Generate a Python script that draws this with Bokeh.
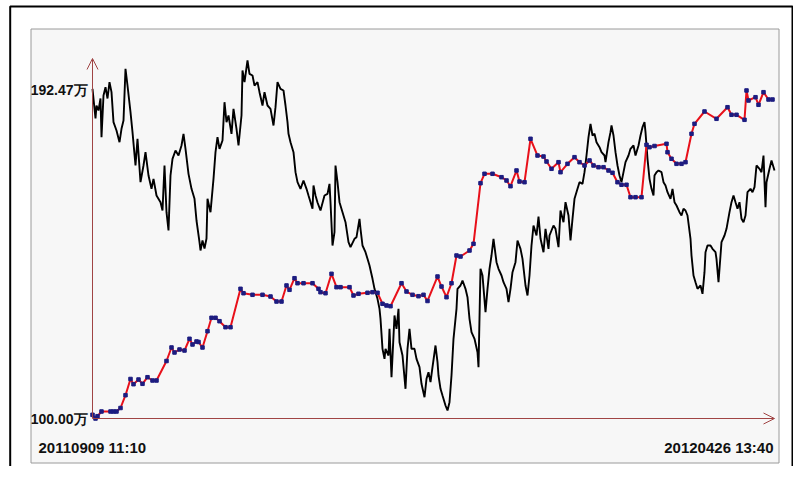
from bokeh.plotting import figure
from bokeh.models import Range1d, Label, Arrow, OpenHead
from bokeh.embed import file_html
from bokeh.resources import INLINE

# ---------------- data ----------------
start_label = "20110909 11:10"
end_label = "20120426 13:40"
eq_max_label = "192.47万"
eq_min_label = "100.00万"
eq_max = 192.47
eq_min = 100.00

# equity curve (万) at trade bars
eq_x = [0, 3, 5, 9, 18, 21, 24, 28, 33, 38, 41, 46, 50, 55, 60, 64, 74, 79, 82, 87,
        92, 97, 100, 104, 106, 110, 115, 119, 123, 127, 133, 138, 148, 151, 160, 170, 178, 184, 189, 194,
        197, 202, 205, 211, 220, 226, 228, 233, 239, 244, 248, 257, 261, 266, 275, 280, 285, 290, 294, 298,
        309, 314, 320, 326, 331, 335, 345, 349, 354, 359, 364, 368, 377, 381, 388, 392, 400, 409, 414, 418,
        424, 427, 432, 438, 445, 451, 454, 459, 466, 468, 475, 482, 487, 492, 497, 501, 506, 511, 516, 520,
        525, 529, 534, 538, 543, 549, 554, 557, 562, 574, 575, 579, 584, 589, 593, 599, 602, 612, 624, 635,
        639, 644, 652, 654, 656, 663, 666, 671, 676, 680]
eq_v = [101.04, 100.00, 100.65, 101.97, 101.97, 101.97, 101.97, 102.96, 106.57, 111.14, 109.67, 110.99, 109.78, 111.64, 110.71, 110.71, 116.21, 120.02, 118.61, 119.45,
        119.17, 122.47, 120.86, 121.71, 121.57, 120.02, 124.61, 128.39, 128.39, 127.43, 125.74, 125.74, 136.56, 135.32, 134.87, 134.87, 134.39, 132.98, 132.98, 137.50,
        136.28, 139.55, 138.14, 138.14, 138.14, 136.56, 135.61, 135.32, 140.79, 137.02, 137.02, 137.02, 134.68, 135.16, 135.44, 135.61, 135.44, 132.34, 131.86, 131.66,
        138.14, 135.80, 134.87, 134.48, 134.87, 133.13, 140.03, 137.21, 134.20, 138.14, 145.95, 145.67, 147.36, 149.25, 166.34, 168.99, 168.99, 168.03, 167.10, 165.49,
        169.92, 166.81, 166.62, 178.85, 174.14, 173.86, 172.45, 170.40, 172.26, 169.44, 171.80, 173.67, 172.26, 171.33, 172.74, 171.33, 170.85, 170.85, 169.92, 169.27,
        166.62, 165.89, 165.89, 162.39, 162.39, 162.39, 177.16, 176.49, 176.82, 177.44, 175.08, 173.22, 171.80, 171.80, 172.26, 180.26, 183.08, 186.55, 184.49, 187.76,
        185.62, 185.62, 184.21, 192.47, 189.65, 190.58, 188.44, 191.99, 189.93, 189.93]

# price series (black line)
px_x = [0, 3, 4, 6, 8, 9, 11, 13, 15, 17, 19, 21, 24, 27, 29, 31, 33, 35, 38, 40,
        43, 45, 48, 51, 53, 56, 59, 61, 64, 68, 70, 72, 74, 76, 78, 80, 83, 86, 89, 91,
        93, 96, 99, 102, 104, 107, 108, 110, 112, 114, 115, 118, 121, 123, 125, 127, 130, 132, 134, 136,
        139, 141, 144, 146, 149, 150, 152, 155, 157, 160, 162, 165, 167, 170, 172, 175, 178, 181, 183, 185,
        188, 191, 193, 195, 196, 198, 201, 203, 205, 208, 211, 214, 216, 220, 221, 223, 225, 228, 232, 235,
        237, 238, 240, 242, 243, 245, 247, 250, 253, 256, 258, 262, 264, 267, 268, 270, 273, 275, 277, 280,
        282, 285, 287, 288, 290, 292, 293, 296, 297, 299, 302, 304, 306, 307, 310, 313, 315, 317, 319, 322,
        324, 327, 329, 332, 334, 336, 338, 340, 343, 345, 346, 348, 350, 353, 355, 357, 359, 361, 364, 365,
        368, 370, 373, 375, 377, 379, 382, 385, 386, 388, 390, 393, 395, 397, 399, 401, 404, 406, 409, 411,
        414, 416, 418, 420, 423, 425, 428, 430, 433, 435, 437, 439, 441, 444, 446, 448, 451, 453, 456, 457,
        461, 463, 466, 468, 471, 473, 476, 478, 480, 482, 485, 487, 490, 492, 494, 496, 498, 500, 502, 504,
        507, 509, 512, 513, 516, 518, 519, 521, 523, 525, 527, 529, 531, 533, 536, 538, 541, 543, 546, 548,
        550, 552, 553, 555, 557, 559, 561, 562, 564, 566, 569, 571, 573, 575, 578, 580, 582, 584, 587, 589,
        591, 593, 595, 598, 599, 601, 603, 605, 608, 610, 612, 613, 615, 618, 620, 623, 624, 626, 628, 629,
        632, 634, 637, 639, 641, 643, 645, 647, 649, 651, 653, 655, 658, 660, 662, 664, 667, 669, 671, 673,
        674, 677, 679, 682]
px_v = [2777.5, 2730.0, 2750.8, 2742.8, 2762.0, 2700.1, 2766.8, 2780.1, 2762.0, 2788.1, 2772.1, 2724.1, 2710.8, 2692.1, 2713.5, 2726.8, 2809.5, 2782.8, 2740.1, 2708.1,
        2654.8, 2697.5, 2628.1, 2654.8, 2676.1, 2638.8, 2617.5, 2633.5, 2606.8, 2596.1, 2582.8, 2654.8, 2580.1, 2550.8, 2638.8, 2665.5, 2678.8, 2670.8, 2686.8, 2705.5,
        2681.5, 2641.5, 2617.5, 2601.5, 2566.8, 2532.1, 2518.8, 2534.8, 2522.0, 2538.0, 2601.5, 2580.1, 2633.5, 2676.1, 2700.1, 2681.5, 2694.8, 2756.1, 2724.1, 2734.8,
        2705.5, 2745.5, 2713.5, 2686.8, 2734.8, 2806.8, 2788.1, 2822.8, 2801.5, 2798.8, 2782.8, 2788.1, 2772.1, 2750.8, 2772.1, 2750.8, 2745.5, 2718.8, 2748.1, 2788.1,
        2777.5, 2774.8, 2750.8, 2724.1, 2705.5, 2692.1, 2676.1, 2644.1, 2628.1, 2617.5, 2630.8, 2617.5, 2606.8, 2585.5, 2622.8, 2606.8, 2595.6, 2582.8, 2606.8, 2609.5,
        2625.5, 2596.1, 2526.8, 2548.1, 2654.8, 2628.1, 2596.1, 2580.1, 2564.1, 2532.1, 2524.1, 2537.5, 2540.1, 2569.5, 2553.5, 2526.8, 2516.1, 2505.5, 2494.8, 2473.5,
        2457.5, 2441.5, 2425.5, 2409.5, 2361.5, 2345.5, 2361.5, 2350.8, 2393.5, 2316.1, 2414.8, 2393.5, 2425.5, 2372.1, 2350.8, 2297.5, 2361.5, 2393.5, 2361.5, 2361.5,
        2345.5, 2332.1, 2305.5, 2284.1, 2313.5, 2324.1, 2308.1, 2332.1, 2366.8, 2340.1, 2318.8, 2297.5, 2286.8, 2270.8, 2262.8, 2276.1, 2318.8, 2377.5, 2425.5, 2457.5,
        2462.8, 2470.8, 2457.5, 2444.1, 2409.5, 2388.1, 2377.5, 2356.1, 2332.1, 2489.5, 2478.8, 2420.1, 2457.5, 2489.5, 2510.8, 2537.5, 2500.1, 2489.5, 2478.8, 2468.1,
        2457.5, 2436.1, 2457.5, 2484.1, 2500.1, 2534.8, 2521.5, 2505.5, 2462.8, 2446.8, 2478.8, 2526.8, 2558.8, 2542.8, 2573.2, 2538.0, 2516.1, 2553.5, 2521.5, 2542.8,
        2558.8, 2553.5, 2524.1, 2582.8, 2564.1, 2596.1, 2574.8, 2534.8, 2569.5, 2601.5, 2617.5, 2628.1, 2625.5, 2644.1, 2670.8, 2700.1, 2721.5, 2702.8, 2705.5, 2692.1,
        2684.1, 2676.1, 2670.8, 2660.1, 2692.1, 2708.1, 2718.8, 2702.8, 2676.1, 2654.8, 2638.8, 2628.1, 2644.1, 2660.1, 2670.8, 2681.5, 2686.8, 2670.8, 2686.8, 2702.8,
        2716.1, 2724.1, 2708.1, 2665.5, 2633.5, 2617.5, 2606.8, 2638.8, 2644.1, 2646.8, 2644.1, 2628.1, 2622.8, 2612.1, 2601.5, 2617.5, 2596.1, 2590.8, 2580.1, 2574.8,
        2585.5, 2582.8, 2574.8, 2537.5, 2510.8, 2478.8, 2468.1, 2457.5, 2462.8, 2449.5, 2484.1, 2516.1, 2526.8, 2526.8, 2521.5, 2516.1, 2505.5, 2468.1, 2510.8, 2532.1,
        2542.8, 2553.5, 2580.1, 2596.1, 2606.8, 2596.1, 2585.5, 2596.1, 2569.5, 2564.1, 2574.8, 2612.1, 2617.5, 2612.1, 2620.1, 2654.8, 2649.5, 2644.1, 2670.8, 2588.1,
        2628.1, 2649.5, 2662.8, 2646.8]

assert len(eq_x) == len(eq_v), (len(eq_x), len(eq_v))
assert len(px_x) == len(px_v), (len(px_x), len(px_v))

# ---------------- figure ----------------
W, H = 793, 466
p = figure(width=W, height=H, output_backend="svg", toolbar_location=None,
           x_range=Range1d(0, W), y_range=Range1d(H, 0),
           min_border=0, x_axis_type=None, y_axis_type=None,
           outline_line_color=None, background_fill_color="white",
           border_fill_color="white")
p.extra_x_ranges = {"bar": Range1d(-92, W - 92)}
p.extra_y_ranges = {"eq": Range1d(100 - (H - 418) * 0.28192, 100 + 418 * 0.28192),
                    "price": Range1d(2918.8 - 1.6 * H, 2918.8)}

# outer frame and panel
p.quad(left=[9.7], right=[792.0], top=[6.0], bottom=[520], fill_color=None,
       line_color="black", line_width=2)
p.quad(left=[30.5], right=[778.5], top=[28.5], bottom=[462.5], fill_color="#f7f7f7",
       line_color="#9a9a9a", line_width=1)

axis_color = "#a04444"
font_stack = "Liberation Sans, Arial, sans-serif"

# price line
p.line(px_x, px_v, x_range_name="bar", y_range_name="price", line_color="black",
       line_width=1.9)

# equity line
p.line(eq_x, eq_v, x_range_name="bar", y_range_name="eq", line_color="#e8101a",
       line_width=2)
p.scatter(eq_x, eq_v, x_range_name="bar", y_range_name="eq", marker="square",
          size=3.5, fill_color="#1c1c80", line_color="#1c1c80")

# axes with arrows
p.add_layout(Arrow(x_start=92, y_start=418, x_end=92, y_end=58,
                   line_color=axis_color, line_width=1,
                   end=OpenHead(size=11, line_color=axis_color, line_width=1)))
p.add_layout(Arrow(x_start=92, y_start=418, x_end=774, y_end=418,
                   line_color=axis_color, line_width=1,
                   end=OpenHead(size=11, line_color=axis_color, line_width=1)))

# labels
for txt, yv in [(eq_max_label, eq_max), (eq_min_label, eq_min)]:
    p.add_layout(Label(x=87, y=yv, y_range_name="eq", text=txt, text_align="right",
                       text_baseline="middle", text_font=font_stack,
                       text_font_size="14px", text_font_style="bold", text_color="#111111"))
p.add_layout(Label(x=38, y=447, text=start_label, text_align="left", text_baseline="middle",
                   text_font=font_stack, text_font_size="15px",
                   text_font_style="bold", text_color="#111111"))
p.add_layout(Label(x=773, y=447, text=end_label, text_align="right", text_baseline="middle",
                   text_font=font_stack, text_font_size="15px",
                   text_font_style="bold", text_color="#111111"))

open("out.html", "w").write(file_html(p, INLINE))
